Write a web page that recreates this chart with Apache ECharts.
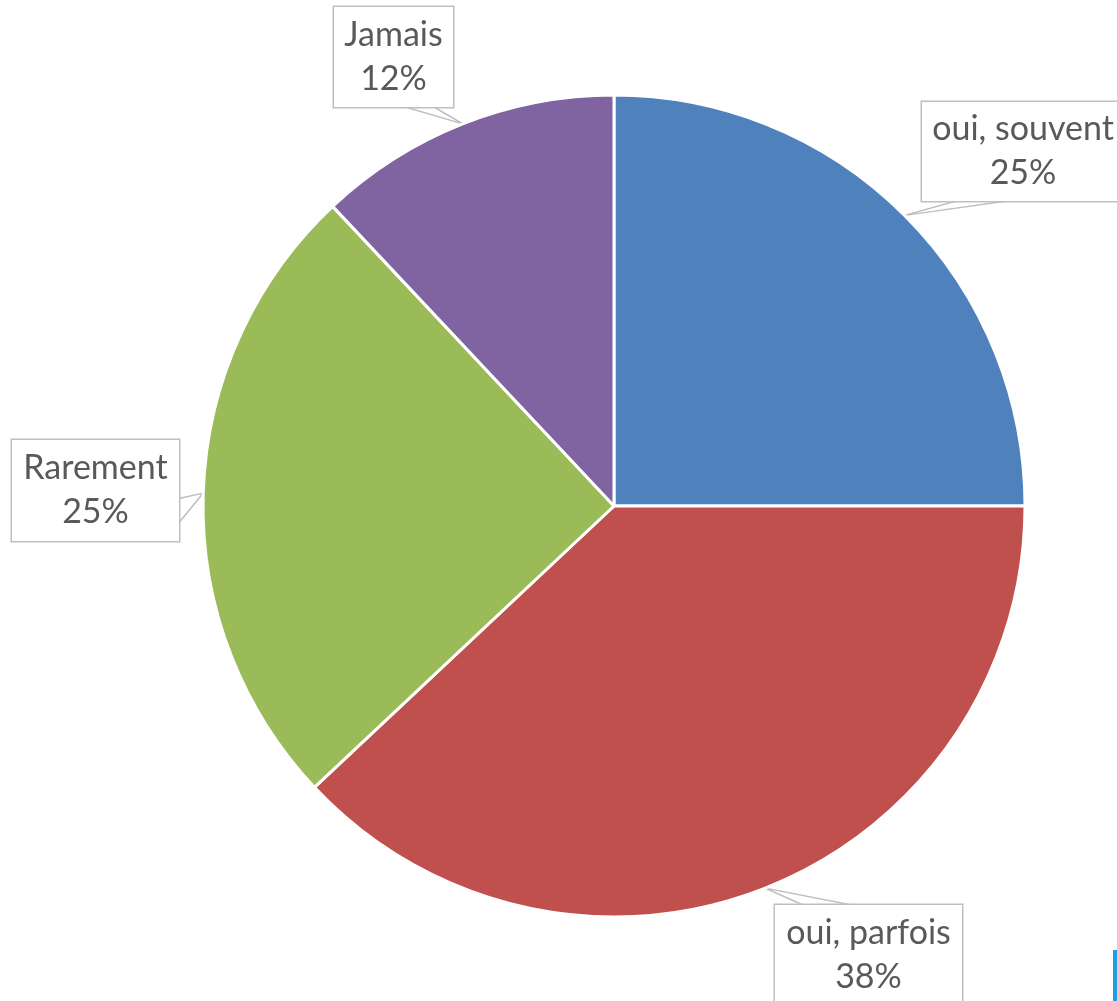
<!DOCTYPE html>
<html>
<head>
<meta charset="utf-8">
<script src="https://cdn.jsdelivr.net/npm/echarts@6/dist/echarts.min.js"></script>
<style>html,body{margin:0;padding:0;background:#fff}#c{width:1117px;height:1001px}</style>
</head>
<body>
<div id="c"></div>
<script>
var categories = ['oui, souvent', 'oui, parfois', 'Rarement', 'Jamais'];
var values = [25, 38, 25, 12];
var colors = ['#4F81BD', '#C0504D', '#9BBB59', '#8064A2'];

// callout box layout (box edges in px, pointer base side and fractions)
var boxes = [
  { x0: 922, y0: 102, x1: 1124, y1: 201, side: 'bottom', f0: 0.17, f1: 0.42 },
  { x0: 775, y0: 905, x1: 962, y1: 1005, side: 'top', f0: 0.15, f1: 0.41 },
  { x0: 12, y0: 440, x1: 179, y1: 541, side: 'right', f0: 0.58, f1: 0.82 },
  { x0: 334, y0: 7, x1: 453, y1: 107, side: 'bottom', f0: 0.6, f1: 0.84 }
];
var PADH = 8, PADV = 6;

var chart = echarts.init(document.getElementById('c'));
var data = categories.map(function (n, i) {
  var b = boxes[i];
  return {
    name: n, value: values[i],
    itemStyle: { color: colors[i] },
    label: { width: (b.x1 - b.x0) - 2 * PADH, height: (b.y1 - b.y0) - 2 * PADV }
  };
});

chart.setOption({
  animation: false,
  series: [{
    type: 'pie',
    center: [614, 506],
    radius: 411,
    startAngle: 90,
    clockwise: true,
    avoidLabelOverlap: false,
    itemStyle: { borderColor: '#fff', borderWidth: 3 },
    label: {
      show: true,
      position: 'outside',
      formatter: '{b}\n{c}%',
      fontFamily: 'Lato, "Open Sans", sans-serif',
      fontSize: 34,
      lineHeight: 44,
      color: '#595959',
      align: 'center',
      verticalAlign: 'middle',
      backgroundColor: '#fff',
      borderColor: '#BFBFBF',
      borderWidth: 1.5,
      padding: [PADV, PADH]
    },
    labelLine: { show: true, lineStyle: { color: '#BFBFBF', width: 1.5 } },
    emphasis: { disabled: true },
    labelLayout: function (p) {
      var b = boxes[p.dataIndex];
      var tip = p.labelLinePoints ? p.labelLinePoints[0] : [0, 0];
      var a, c;
      if (b.side === 'bottom' || b.side === 'top') {
        var yy = b.side === 'bottom' ? b.y1 : b.y0;
        a = [b.x0 + (b.x1 - b.x0) * b.f0, yy];
        c = [b.x0 + (b.x1 - b.x0) * b.f1, yy];
      } else {
        var xx = b.side === 'right' ? b.x1 : b.x0;
        a = [xx, b.y0 + (b.y1 - b.y0) * b.f0];
        c = [xx, b.y0 + (b.y1 - b.y0) * b.f1];
      }
      return {
        x: (b.x0 + b.x1) / 2,
        y: (b.y0 + b.y1) / 2,
        align: 'center',
        verticalAlign: 'middle',
        labelLinePoints: [a, tip, c]
      };
    },
    data: data
  }],
  graphic: [{
    type: 'rect', shape: { x: 1113, y: 950, width: 4, height: 51 },
    style: { fill: '#1BA1E2' }, silent: true
  }]
});
</script>
</body>
</html>
